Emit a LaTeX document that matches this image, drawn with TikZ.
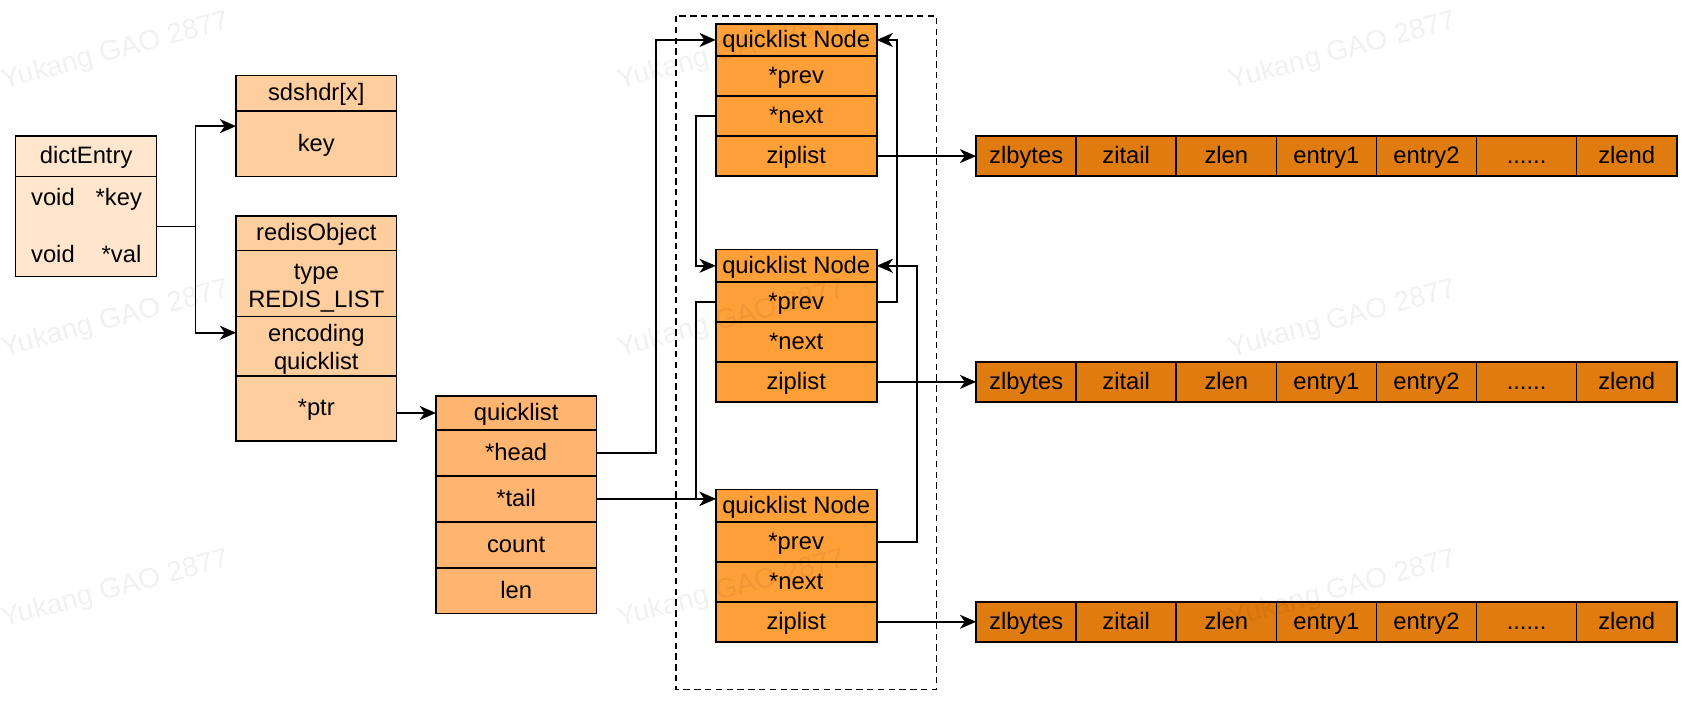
\documentclass[tikz,border=0pt]{standalone}
\usepackage{fontspec}
\setmainfont{Liberation Sans}
\usetikzlibrary{arrows.meta,calc}
\definecolor{dictc}{HTML}{FFE6CC}
\definecolor{sdsc}{HTML}{FFCE9F}
\definecolor{qlc}{HTML}{FFB570}
\definecolor{nodec}{HTML}{FF9F38}
\definecolor{zipc}{HTML}{E07B0F}
\newcommand\zipdots{......}
\begin{document}
\begin{tikzpicture}[x=1pt,y=-1pt,
  cellbase/.style={draw=black, line width=1.5pt, inner sep=0pt, outer sep=0pt, align=center,
    font=\fontsize{22}{26}\selectfont},
  cell/.style={cellbase, text height=15pt, text depth=1pt},
  celltwo/.style={cellbase, text height=43.5pt, text depth=0pt},
  txt/.style={inner sep=0pt, text height=15pt, text depth=1pt, font=\fontsize{22}{26}\selectfont},
  arr/.style={-{Stealth[length=15pt,width=13pt,inset=4.5pt]}, line width=1.5pt},
  wire/.style={line width=1.5pt},
  wm/.style={font=\fontsize{26}{30}\selectfont, text=black, text opacity=0.055, rotate=15, inner sep=0pt}]
\useasboundingbox (0,0) rectangle (1568,655.3);
\fill[white] (0,0) rectangle (1568,655.3);

% dashed frame
\draw[line width=1.4pt, dash pattern=on 6pt off 4pt] (625.7,14.8) rectangle (867,638);

% dictEntry
\node[cell,fill=dictc,minimum width=130.5pt,minimum height=37.5pt] (deh) at (79.75,144.75) {dictEntry};
\node[cell,fill=dictc,minimum width=130.5pt,minimum height=92.5pt] (deb) at (79.75,209.75) {};
\node[txt] (dek1) at (49,183) {void};
\node[txt] (dek2) at (110,183) {*key};
\node[txt] (dev1) at (49,236) {void};
\node[txt] (dev2) at (112.5,236) {*val};

% sdshdr
\node[cell,fill=sdsc,minimum width=148.5pt,minimum height=32.5pt] (sdsh) at (292.75,86.25) {sdshdr[x]};
\node[cell,fill=sdsc,minimum width=148.5pt,minimum height=61pt] (sdsk) at (292.75,133) {key};

% redisObject
\node[cell,fill=sdsc,minimum width=148.5pt,minimum height=32pt] (roh) at (292.75,216) {redisObject};
\node[celltwo,fill=sdsc,minimum width=148.5pt,minimum height=61pt] (rot) at (292.75,262.5) {type\\REDIS\_LIST};
\node[celltwo,fill=sdsc,minimum width=148.5pt,minimum height=55pt] (roe) at (292.75,320.5) {encoding\\quicklist};
\node[cell,fill=sdsc,minimum width=148.5pt,minimum height=60pt] (rop) at (292.75,378) {*ptr};

% quicklist
\node[cell,fill=qlc,minimum width=148.5pt,minimum height=31.5pt] (qlh) at (477.75,382.25) {quicklist};
\node[cell,fill=qlc,minimum width=148.5pt,minimum height=42.5pt] (qlhead) at (477.75,419.25) {*head};
\node[cell,fill=qlc,minimum width=148.5pt,minimum height=42.5pt] (qltail) at (477.75,461.75) {*tail};
\node[cell,fill=qlc,minimum width=148.5pt,minimum height=42.5pt] (qlcount) at (477.75,504.25) {count};
\node[cell,fill=qlc,minimum width=148.5pt,minimum height=42.5pt] (qllen) at (477.75,546.75) {len};

% quicklist nodes
\foreach \n/\y in {1/22,2/231,3/453}{
  \node[cell,fill=nodec,minimum width=149pt,minimum height=30pt] (n\n h) at (737,\y+15) {quicklist Node};
  \node[cell,fill=nodec,minimum width=149pt,minimum height=37pt] (n\n p) at (737,\y+48.5) {*prev};
  \node[cell,fill=nodec,minimum width=149pt,minimum height=37pt] (n\n n) at (737,\y+85.5) {*next};
  \node[cell,fill=nodec,minimum width=149pt,minimum height=37pt] (n\n z) at (737,\y+122.5) {ziplist};
}

% ziplists
\foreach \r/\y in {1/144.5,2/353.5,3/575.5}{
  \foreach \t [count=\i] in {zlbytes,zitail,zlen,entry1,entry2,\zipdots,zlend}{
    \node[cell,fill=zipc,minimum width=92.64pt,minimum height=37pt] (z\r-\i) at (857.18+92.64*\i,\y) {\t};
  }
}

% connectors
\draw[wire] (deb.east) -- ++(36,0) coordinate (dj);
\draw[arr] (dj) |- ([yshift=16.25pt]sdsk.west);
\draw[arr] (dj) |- ([yshift=12.5pt]roe.west);
\draw[arr] (qlh.west -| rop.east) -- (qlh.west);
\draw[arr] (qlhead.east) -- ++(55,0) |- (n1h.west);
\draw[arr] (qltail.east) -- (qltail.east -| n3h.west);
\draw[arr] (n1n.west) -- ++(-18.5,0) |- (n2h.west);
\draw[arr] (n2p.west) -- ++(-18.5,0) |- (qltail.east -| n3h.west);
\draw[arr] (n2p.east) -- ++(18.5,0) |- (n1h.east);
\draw[arr] (n3p.east) -- ++(37,0) |- (n2h.east);
\draw[arr] (n1z.east) -- (z1-1.west);
\draw[arr] (n2z.east) -- (z2-1.west);
\draw[arr] (n3z.east) -- (z3-1.west);

% watermarks
\foreach \cx in {107,677,1243}{
  \foreach \cy in {48,296,546}{
    \node[wm] at (\cx,\cy) {Yukang GAO 2877};
  }
}
\end{tikzpicture}
\end{document}
